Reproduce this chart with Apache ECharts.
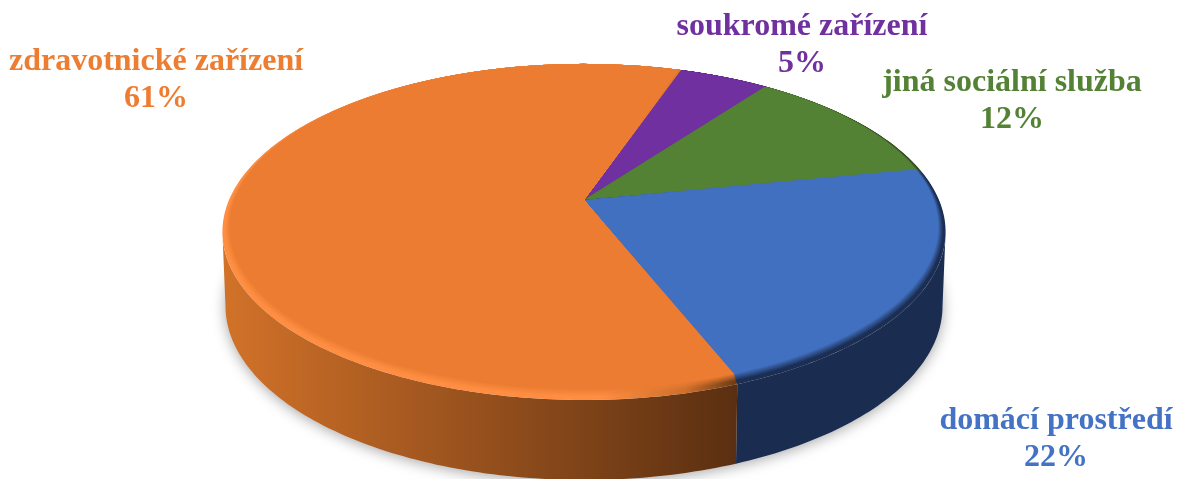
<!DOCTYPE html>
<html>
<head>
<meta charset="utf-8">
<style>html,body{margin:0;padding:0;background:#fff}#c{width:1178px;height:479px}</style>
<script src="https://cdn.jsdelivr.net/npm/echarts@6/dist/echarts.min.js"></script>
</head>
<body>
<div id="c"></div>
<script>
// Data, clockwise from the first slice
const categories = ['soukromé zařízení', 'jiná sociální služba', 'domácí prostředí', 'zdravotnické zařízení'];
const shares = [5, 12, 22, 61];

// Styles
const faceColors = ['#7030A0', '#548235', '#4270C0', '#EB7C31'];
const labelColors = ['#7030A0', '#548235', '#4472C4', '#ED7D31'];
const wallStops = [
  ['#4a2069', '#4a2069'], ['#334f20', '#334f20'], ['#1A2C50', '#1A2C50'], ['#D27229', '#5A2F11']
];
const rimStops = [
  [[0, '#3f1b5c'], [1, '#3f1b5c']],
  [[0, '#2f4a1e'], [1, '#2f4a1e']],
  [[0, '#1b2f55'], [1, '#1b2f55']],
  [[0, '#FF8E42'], [0.73, '#FF8E42'], [0.9, '#CE6F2B'], [1, '#6B3A14']]
];

// Layout
const firstAngle = 18.8;
const upper = { x: 584, y: 200, rx: 355, ry: 162, k: 0.19 };
const lower = { x: 584, y: 273, rx: 352, ry: 167.7, k: 0.19 };
const rimLayers = 10;
const labelPlaces = [[802, 45], [1012, 101], [1056, 439], [156, 80]];

const total = shares.reduce((a, b) => a + b, 0);
const starts = [];
shares.reduce((sum, v, i) => { starts[i] = sum; return sum + v; }, 0);

function project(p, deg) {
  const a = deg * Math.PI / 180;
  const u = Math.sin(a), v = -Math.cos(a);
  const d = 1 - p.k * v;
  return [p.x + p.rx * u / d, p.y + p.ry * v / d];
}
function arc(p, from, to) {
  const pts = [];
  const n = Math.max(2, Math.ceil(Math.abs(to - from)));
  for (let i = 0; i <= n; i++) pts.push(project(p, from + (to - from) * i / n));
  return pts;
}
function range(i) {
  const from = firstAngle + starts[i] / total * 360;
  return [from, from + shares[i] / total * 360];
}
const leftX = upper.x - upper.rx / Math.sqrt(1 - upper.k * upper.k);
const topY = project(upper, 0)[1];
// Angles at which the rim's outline turns from the far side to the near side
const tangentRight = Math.acos(-upper.k) * 180 / Math.PI;
const tangentLeft = 360 - tangentRight;
function hex(c) { return [1, 3, 5].map(i => parseInt(c.substr(i, 2), 16)); }
function mix(a, b, t) {
  const x = hex(a), y = hex(b);
  return 'rgb(' + x.map((q, i) => Math.round(q + (y[i] - q) * t)).join(',') + ')';
}
const seriesData = shares.map((v, i) => ({ value: v, name: categories[i] }));

function renderWall(params) {
  const i = params.dataIndex;
  const r = range(i);
  const from = Math.max(r[0], tangentRight), to = Math.min(r[1], tangentLeft);
  if (to <= from) return { type: 'group', children: [] };
  const w = wallStops[i];
  return {
    type: 'polygon',
    shape: { points: arc(upper, from, to).concat(arc(lower, from, to).reverse()) },
    style: {
      fill: {
        type: 'linear', global: true, x: leftX, y: 0, x2: project(upper, range(3)[0])[0], y2: 0,
        colorStops: [{ offset: 0, color: w[0] }, { offset: 1, color: w[1] }]
      }
    }
  };
}
function renderShadow(params) {
  if (params.dataIndex !== 0) return { type: 'group', children: [] };
  return {
    type: 'polygon',
    shape: { points: arc(lower, 0, 360) },
    style: { fill: '#ddd', shadowBlur: 14, shadowColor: 'rgba(0,0,0,0.35)', shadowOffsetY: 2 }
  };
}
function renderTop(params) {
  const i = params.dataIndex;
  const [from, to] = range(i);
  const outer = arc(upper, from, to);
  const rightX = project(upper, range(3)[0])[0];
  const children = [];
  for (let l = 0; l <= rimLayers; l++) {
    const t = l / rimLayers;
    const sx = 1 - 0.02 * t, sy = 1 - 0.032 * t;
    const pts = outer.map(p => [upper.x + (p[0] - upper.x) * sx, topY + (p[1] - topY) * sy]);
    pts.unshift([upper.x, upper.y]);
    const blend = t < 0.3 ? 0 : (t - 0.3) / 0.7;
    children.push({
      type: 'polygon',
      shape: { points: pts },
      style: {
        fill: l === rimLayers ? faceColors[i] : {
          type: 'linear', global: true, x: leftX, y: 0, x2: i === 3 ? rightX : leftX + 1, y2: 0,
          colorStops: rimStops[i].map(s => ({ offset: s[0], color: mix(s[1], faceColors[i], blend) }))
        }
      }
    });
  }
  return { type: 'group', children };
}
function renderLabel(params) {
  const i = params.dataIndex;
  return {
    type: 'text',
    style: {
      x: labelPlaces[i][0], y: labelPlaces[i][1],
      text: categories[i] + '\n' + shares[i] + '%',
      fill: labelColors[i],
      font: 'bold 32px "Liberation Serif", serif',
      lineHeight: 37,
      align: 'center', verticalAlign: 'middle'
    }
  };
}
const chart = echarts.init(document.getElementById('c'), null, { renderer: 'canvas' });
const base = { type: 'custom', coordinateSystem: 'none', data: seriesData, silent: true, animation: false, clip: false };
chart.setOption({
  animation: false,
  backgroundColor: '#fff',
  series: [
    Object.assign({}, base, { renderItem: renderShadow, z: 1 }),
    Object.assign({}, base, { renderItem: renderWall, z: 2 }),
    Object.assign({}, base, { renderItem: renderTop, z: 3 }),
    Object.assign({}, base, { renderItem: renderLabel, z: 4 })
  ]
});
</script>
</body>
</html>
